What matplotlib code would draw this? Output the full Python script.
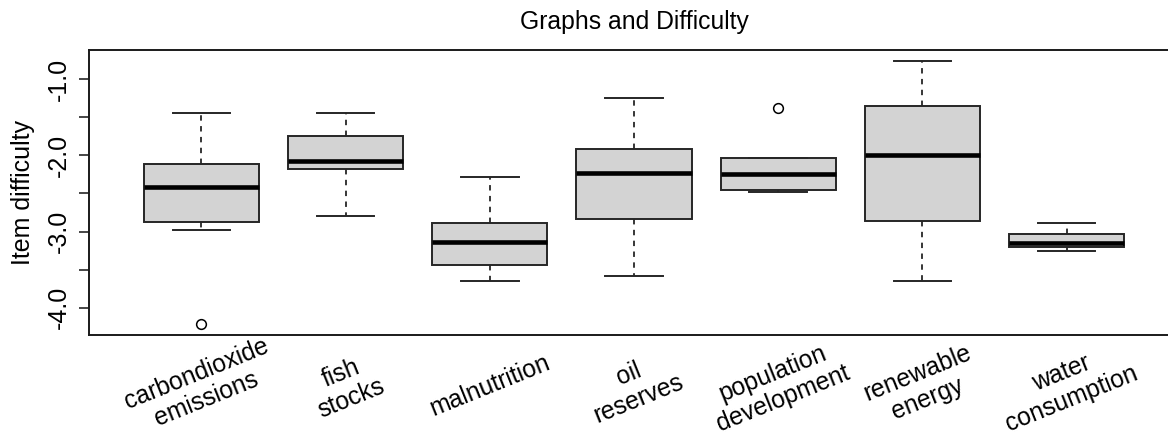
import matplotlib
matplotlib.use("Agg")
import matplotlib.pyplot as plt
from matplotlib.transforms import blended_transform_factory

plt.rcParams["font.family"] = ["Liberation Sans", "DejaVu Sans"]

# Category labels (two-line where the original label wraps)
categories = [
    "carbondioxide\nemissions",
    "fish\nstocks",
    "malnutrition",
    "oil\nreserves",
    "population\ndevelopment",
    "renewable\nenergy",
    "water\nconsumption",
]

# Five-number summaries of item difficulty per graph topic
whisker_low = [-2.98, -2.80, -3.65, -3.59, -2.48, -3.65, -3.26]
q1 = [-2.87, -2.18, -3.44, -2.83, -2.45, -2.86, -3.20]
median = [-2.41, -2.08, -3.14, -2.23, -2.25, -2.00, -3.15]
q3 = [-2.11, -1.74, -2.89, -1.92, -2.04, -1.35, -3.03]
whisker_high = [-1.44, -1.45, -2.29, -1.25, -2.04, -0.76, -2.89]
outliers = [[-4.22], [], [], [], [-1.38], [], []]

title = "Graphs and Difficulty"
ylabel = "Item difficulty"
ytick_major = [-1.0, -2.0, -3.0, -4.0]
ytick_minor = [-1.5, -2.5, -3.5]

W, H = 1168, 437
fig = plt.figure(figsize=(W / 100, H / 100), dpi=100)

left_px, right_px, top_px, bottom_px = 89, 1179, 50, 335
ax = fig.add_axes([left_px / W, 1 - bottom_px / H,
                   (right_px - left_px) / W, (bottom_px - top_px) / H])

stats = []
for i in range(len(categories)):
    stats.append(dict(med=median[i], q1=q1[i], q3=q3[i],
                      whislo=whisker_low[i], whishi=whisker_high[i],
                      fliers=outliers[i]))

edge = "#262626"
positions = list(range(1, len(categories) + 1))
ax.bxp(stats, positions=positions, widths=0.8, capwidths=0.4,
       patch_artist=True, showfliers=True,
       boxprops=dict(facecolor="#d3d3d3", edgecolor=edge, linewidth=1.4),
       medianprops=dict(color="black", linewidth=3.3, solid_capstyle="butt"),
       whiskerprops=dict(color=edge, linewidth=1.3, linestyle=(0, (3.0, 3.0))),
       capprops=dict(color=edge, linewidth=1.4),
       flierprops=dict(marker="o", markersize=7, markerfacecolor="white",
                       markeredgecolor="black", markeredgewidth=1.1))

ax.set_xlim(0.22, 7.78)
ax.set_ylim(-4.358, -0.617)

# y axis: ticks every 0.5, labels on whole numbers, rotated as in base R
ax.set_yticks(ytick_major + ytick_minor)
ax.set_yticklabels([f"{v:.1f}" if v in ytick_major else "" for v in ytick_major + ytick_minor])
ax.tick_params(axis="y", length=7.2, width=1.2, color=edge, pad=5.5,
               labelsize=18, labelrotation=90)
for lab in ax.get_yticklabels():
    lab.set_va("center")

ax.set_xticks([])
for side in ["left", "top", "bottom", "right"]:
    ax.spines[side].set_color("#1a1a1a")
    ax.spines[side].set_linewidth(1.4)

ax.set_title(title, fontsize=17.8, pad=15)
fig.text(23 / W, 1 - 192.5 / H, ylabel, rotation=90, ha="center", va="center",
         fontsize=18)

# slanted category labels below the plot region
trans = blended_transform_factory(ax.transData, fig.transFigure)
for pos, lab in zip(positions, categories):
    ax.text(pos, 1 - 386 / H, lab, transform=trans, rotation=22,
            rotation_mode="anchor", ha="center", va="center",
            multialignment="center", linespacing=1.15, fontsize=17.8,
            clip_on=False)

fig.savefig("out.png", dpi=100)
